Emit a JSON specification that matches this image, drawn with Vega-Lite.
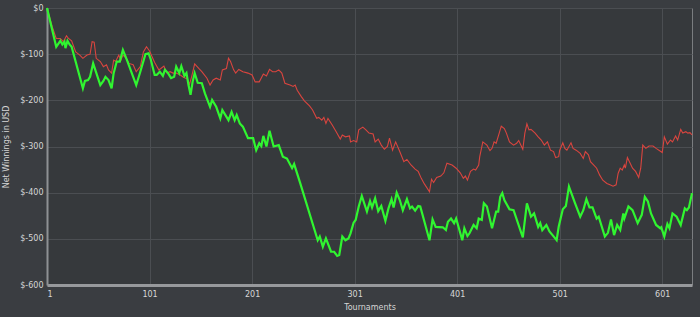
{
  "$schema": "https://vega.github.io/schema/vega-lite/v6.json",
  "width": 645,
  "height": 277,
  "autosize": {"type": "none"},
  "padding": {"left": 47, "top": 8, "right": 8, "bottom": 32},
  "background": "#3a3d41",
  "config": {
    "view": {"fill": "#36393c", "stroke": "#7a7d80", "strokeWidth": 1},
    "font": "DejaVu Sans",
    "axis": {
      "labelFont": "DejaVu Sans", "labelFontSize": 8, "labelColor": "#d6d6d6",
      "titleFont": "DejaVu Sans", "titleFontSize": 8, "titleColor": "#d6d6d6", "titleFontWeight": "normal",
      "gridColor": "#4b4e52", "gridWidth": 1, "gridOpacity": 1,
      "ticks": false, "labelPadding": 4
    }
  },
  "datasets": {
    "green": [
      {"t":1,"v":0},{"t":10,"v":-84},{"t":14,"v":-71},{"t":16,"v":-79},{"t":18,"v":-73},{"t":19,"v":-87},{"t":21,"v":-71},{"t":23,"v":-79},{"t":25,"v":-84},
      {"t":36,"v":-174},{"t":38,"v":-158},{"t":41,"v":-156},{"t":43,"v":-149},{"t":46,"v":-120},{"t":53,"v":-167},{"t":56,"v":-158},{"t":58,"v":-149},{"t":61,"v":-156},
      {"t":64,"v":-174},{"t":66,"v":-141},{"t":69,"v":-116},{"t":72,"v":-116},{"t":75,"v":-91},{"t":79,"v":-113},{"t":88,"v":-167},{"t":92,"v":-138},{"t":97,"v":-100},
      {"t":100,"v":-98},{"t":102,"v":-110},{"t":106,"v":-145},{"t":108,"v":-145},{"t":111,"v":-138},{"t":114,"v":-147},{"t":116,"v":-134},{"t":119,"v":-141},{"t":122,"v":-152},
      {"t":125,"v":-149},{"t":127,"v":-127},{"t":130,"v":-141},{"t":132,"v":-126},{"t":135,"v":-147},{"t":137,"v":-141},{"t":139,"v":-167},{"t":141,"v":-188},{"t":143,"v":-160},
      {"t":145,"v":-141},{"t":148,"v":-162},{"t":152,"v":-163},{"t":155,"v":-185},{"t":160,"v":-214},{"t":162,"v":-199},{"t":166,"v":-214},{"t":170,"v":-239},{"t":172,"v":-221},
      {"t":175,"v":-232},{"t":178,"v":-243},{"t":181,"v":-225},{"t":184,"v":-243},{"t":186,"v":-232},{"t":189,"v":-250},{"t":192,"v":-257},{"t":197,"v":-282},{"t":202,"v":-282},
      {"t":205,"v":-308},{"t":208,"v":-293},{"t":210,"v":-299},{"t":212,"v":-277},{"t":215,"v":-300},{"t":218,"v":-266},{"t":222,"v":-300},{"t":227,"v":-297},{"t":231,"v":-322},
      {"t":235,"v":-326},{"t":240,"v":-347},{"t":242,"v":-338},{"t":248,"v":-380},{"t":265,"v":-503},{"t":267,"v":-495},{"t":270,"v":-517},{"t":273,"v":-499},{"t":278,"v":-528},
      {"t":281,"v":-528},{"t":284,"v":-537},{"t":286,"v":-535},{"t":289,"v":-495},{"t":292,"v":-503},{"t":295,"v":-499},{"t":297,"v":-488},{"t":300,"v":-465},{"t":302,"v":-459},
      {"t":305,"v":-430},{"t":308,"v":-407},{"t":313,"v":-441},{"t":316,"v":-418},{"t":318,"v":-432},{"t":321,"v":-412},{"t":324,"v":-440},{"t":327,"v":-429},{"t":331,"v":-461},
      {"t":334,"v":-434},{"t":337,"v":-414},{"t":339,"v":-432},{"t":342,"v":-400},{"t":345,"v":-416},{"t":348,"v":-438},{"t":352,"v":-414},{"t":355,"v":-434},{"t":357,"v":-430},
      {"t":360,"v":-439},{"t":363,"v":-429},{"t":365,"v":-430},{"t":374,"v":-503},{"t":377,"v":-458},{"t":380,"v":-474},{"t":387,"v":-475},{"t":390,"v":-481},{"t":392,"v":-463},
      {"t":395,"v":-456},{"t":398,"v":-466},{"t":400,"v":-456},{"t":406,"v":-503},{"t":408,"v":-477},{"t":411,"v":-494},{"t":413,"v":-488},{"t":417,"v":-470},{"t":420,"v":-477},
      {"t":422,"v":-456},{"t":425,"v":-459},{"t":427,"v":-423},{"t":430,"v":-430},{"t":435,"v":-477},{"t":439,"v":-441},{"t":441,"v":-441},{"t":443,"v":-409},{"t":445,"v":-401},
      {"t":447,"v":-416},{"t":452,"v":-436},{"t":456,"v":-438},{"t":465,"v":-497},{"t":469,"v":-423},{"t":473,"v":-452},{"t":476,"v":-445},{"t":480,"v":-474},{"t":482,"v":-466},
      {"t":484,"v":-481},{"t":488,"v":-470},{"t":491,"v":-484},{"t":494,"v":-492},{"t":498,"v":-503},{"t":500,"v":-474},{"t":504,"v":-436},{"t":507,"v":-429},{"t":510,"v":-387},
      {"t":516,"v":-423},{"t":521,"v":-452},{"t":524,"v":-438},{"t":527,"v":-414},{"t":530,"v":-432},{"t":533,"v":-432},{"t":537,"v":-456},{"t":539,"v":-452},{"t":545,"v":-495},
      {"t":548,"v":-487},{"t":551,"v":-458},{"t":554,"v":-492},{"t":557,"v":-470},{"t":560,"v":-481},{"t":563,"v":-445},{"t":564,"v":-456},{"t":568,"v":-430},{"t":572,"v":-438},
      {"t":577,"v":-466},{"t":581,"v":-448},{"t":584,"v":-409},{"t":587,"v":-419},{"t":590,"v":-445},{"t":595,"v":-470},{"t":599,"v":-477},{"t":600,"v":-475},{"t":603,"v":-495},
      {"t":606,"v":-468},{"t":608,"v":-477},{"t":611,"v":-445},{"t":615,"v":-452},{"t":619,"v":-470},{"t":623,"v":-434},{"t":625,"v":-438},{"t":627,"v":-432},{"t":630,"v":-401}
    ],
    "red": [
      {"t":1,"v":0},{"t":6,"v":-40},{"t":10,"v":-66},{"t":14,"v":-66},{"t":17,"v":-73},{"t":20,"v":-60},{"t":22,"v":-66},{"t":25,"v":-71},{"t":29,"v":-95},{"t":33,"v":-102},
      {"t":36,"v":-109},{"t":40,"v":-102},{"t":43,"v":-100},{"t":45,"v":-73},{"t":47,"v":-74},{"t":49,"v":-109},{"t":53,"v":-116},{"t":56,"v":-127},{"t":59,"v":-123},{"t":61,"v":-134},
      {"t":64,"v":-141},{"t":66,"v":-113},{"t":68,"v":-116},{"t":71,"v":-102},{"t":73,"v":-113},{"t":75,"v":-102},{"t":78,"v":-108},{"t":81,"v":-120},{"t":85,"v":-123},{"t":88,"v":-138},
      {"t":92,"v":-127},{"t":95,"v":-95},{"t":98,"v":-84},{"t":101,"v":-93},{"t":106,"v":-118},{"t":110,"v":-134},{"t":112,"v":-131},{"t":115,"v":-126},{"t":118,"v":-141},{"t":121,"v":-138},
      {"t":124,"v":-141},{"t":127,"v":-141},{"t":131,"v":-145},{"t":134,"v":-150},{"t":138,"v":-154},{"t":140,"v":-165},{"t":142,"v":-149},{"t":145,"v":-121},{"t":149,"v":-131},{"t":152,"v":-138},
      {"t":157,"v":-152},{"t":160,"v":-167},{"t":163,"v":-156},{"t":166,"v":-152},{"t":170,"v":-156},{"t":172,"v":-134},{"t":176,"v":-131},{"t":178,"v":-109},{"t":180,"v":-116},{"t":183,"v":-134},
      {"t":185,"v":-141},{"t":188,"v":-133},{"t":192,"v":-138},{"t":197,"v":-141},{"t":201,"v":-145},{"t":204,"v":-160},{"t":208,"v":-160},{"t":212,"v":-143},{"t":215,"v":-147},{"t":218,"v":-133},
      {"t":221,"v":-138},{"t":224,"v":-138},{"t":227,"v":-134},{"t":230,"v":-141},{"t":233,"v":-163},{"t":238,"v":-167},{"t":241,"v":-170},{"t":243,"v":-167},{"t":245,"v":-178},{"t":249,"v":-192},
      {"t":252,"v":-201},{"t":257,"v":-212},{"t":260,"v":-221},{"t":264,"v":-239},{"t":266,"v":-237},{"t":269,"v":-243},{"t":271,"v":-237},{"t":273,"v":-250},{"t":275,"v":-239},{"t":279,"v":-253},
      {"t":283,"v":-268},{"t":287,"v":-284},{"t":289,"v":-275},{"t":292,"v":-279},{"t":296,"v":-277},{"t":297,"v":-290},{"t":300,"v":-287},{"t":303,"v":-290},{"t":305,"v":-264},{"t":309,"v":-258},
      {"t":312,"v":-264},{"t":315,"v":-271},{"t":319,"v":-273},{"t":321,"v":-290},{"t":324,"v":-284},{"t":327,"v":-297},{"t":330,"v":-306},{"t":333,"v":-300},{"t":335,"v":-282},{"t":338,"v":-308},
      {"t":341,"v":-290},{"t":345,"v":-311},{"t":349,"v":-333},{"t":352,"v":-328},{"t":356,"v":-340},{"t":360,"v":-349},{"t":363,"v":-354},{"t":366,"v":-369},{"t":369,"v":-381},{"t":374,"v":-398},
      {"t":376,"v":-371},{"t":378,"v":-378},{"t":381,"v":-367},{"t":385,"v":-364},{"t":388,"v":-357},{"t":391,"v":-336},{"t":396,"v":-340},{"t":400,"v":-347},{"t":404,"v":-357},{"t":407,"v":-369},
      {"t":409,"v":-364},{"t":411,"v":-373},{"t":414,"v":-354},{"t":417,"v":-349},{"t":419,"v":-351},{"t":422,"v":-340},{"t":423,"v":-322},{"t":426,"v":-290},{"t":430,"v":-297},{"t":433,"v":-309},
      {"t":435,"v":-304},{"t":437,"v":-290},{"t":439,"v":-293},{"t":442,"v":-271},{"t":444,"v":-256},{"t":447,"v":-261},{"t":449,"v":-271},{"t":452,"v":-290},{"t":456,"v":-297},{"t":459,"v":-293},
      {"t":461,"v":-287},{"t":465,"v":-306},{"t":467,"v":-271},{"t":469,"v":-251},{"t":471,"v":-264},{"t":473,"v":-263},{"t":477,"v":-271},{"t":480,"v":-279},{"t":483,"v":-286},{"t":486,"v":-297},
      {"t":489,"v":-290},{"t":492,"v":-308},{"t":495,"v":-311},{"t":497,"v":-324},{"t":500,"v":-322},{"t":501,"v":-308},{"t":504,"v":-292},{"t":506,"v":-304},{"t":508,"v":-308},{"t":512,"v":-292},
      {"t":514,"v":-304},{"t":517,"v":-308},{"t":521,"v":-315},{"t":524,"v":-326},{"t":526,"v":-311},{"t":529,"v":-318},{"t":531,"v":-333},{"t":534,"v":-340},{"t":537,"v":-347},{"t":540,"v":-362},
      {"t":543,"v":-373},{"t":547,"v":-380},{"t":550,"v":-383},{"t":553,"v":-386},{"t":556,"v":-383},{"t":558,"v":-358},{"t":560,"v":-347},{"t":562,"v":-351},{"t":564,"v":-340},{"t":565,"v":-347},
      {"t":567,"v":-324},{"t":569,"v":-333},{"t":572,"v":-347},{"t":575,"v":-354},{"t":578,"v":-367},{"t":580,"v":-347},{"t":582,"v":-297},{"t":585,"v":-304},{"t":588,"v":-299},{"t":592,"v":-299},
      {"t":595,"v":-304},{"t":601,"v":-313},{"t":603,"v":-279},{"t":606,"v":-295},{"t":609,"v":-286},{"t":611,"v":-290},{"t":614,"v":-277},{"t":616,"v":-286},{"t":619,"v":-263},{"t":621,"v":-271},
      {"t":624,"v":-268},{"t":626,"v":-271},{"t":628,"v":-270},{"t":630,"v":-275}
    ]
  },
  "layer": [
    {
      "data": {"name": "red"},
      "mark": {"type": "line", "color": "#d9453f", "strokeWidth": 1.1},
      "encoding": {
        "x": {"field": "t", "type": "quantitative",
          "scale": {"domain": [1, 630], "nice": false, "zero": false},
          "axis": {"title": "Tournaments", "values": [1,101,201,301,401,501,601], "format": "d",
            "domainColor": "#97999c", "domainWidth": 3, "titlePadding": 5, "labelPadding": 5}},
        "y": {"field": "v", "type": "quantitative",
          "scale": {"domain": [-600, 0], "nice": false},
          "axis": {"title": "Net Winnings in USD", "values": [-600,-500,-400,-300,-200,-100,0],
            "labelExpr": "'$' + datum.value", "domainColor": "#8e9194", "domainWidth": 2, "titlePadding": 9}}
      }
    },
    {
      "data": {"name": "green"},
      "mark": {"type": "line", "color": "#30f530", "strokeWidth": 2.2},
      "encoding": {
        "x": {"field": "t", "type": "quantitative"},
        "y": {"field": "v", "type": "quantitative"}
      }
    },
    {
      "mark": {"type": "rule", "color": "#eeeeee", "strokeWidth": 2},
      "encoding": {"y": {"datum": 0}}
    }
  ]
}
